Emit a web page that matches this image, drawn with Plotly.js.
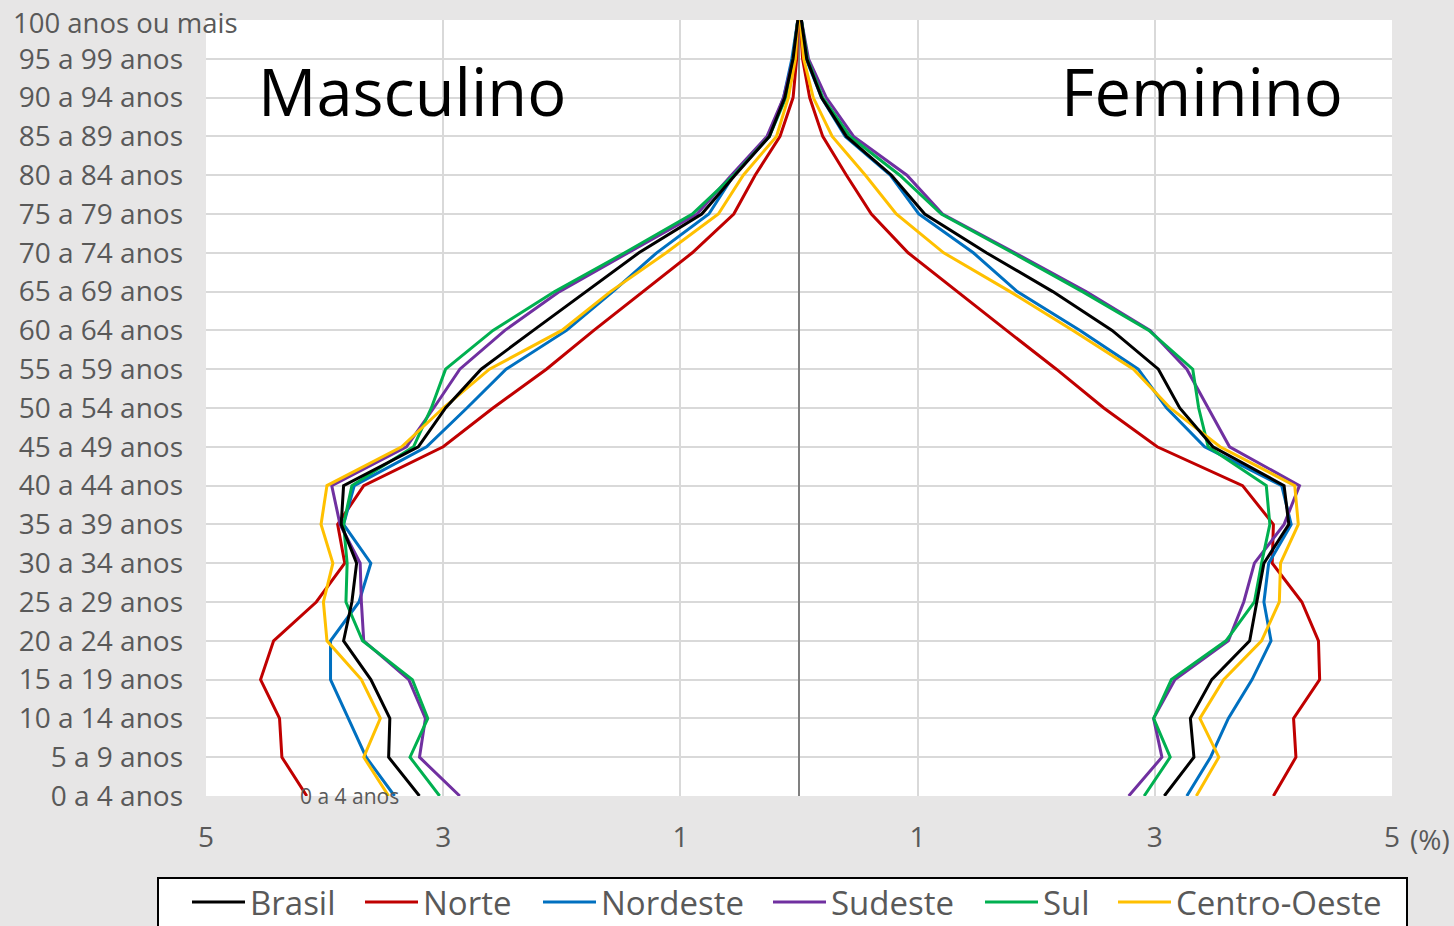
<!DOCTYPE html>
<html>
<head>
<meta charset="utf-8">
<script src="https://cdn.plot.ly/plotly-3.0.1.min.js"></script>
<style>
html,body{margin:0;padding:0;background:#e7e6e6;}
#chart{width:1454px;height:926px;}
</style>
</head>
<body>
<div id="chart"></div>
<script>
// Age groups, from youngest (bottom) to oldest (top)
const ageGroups = ["0 a 4 anos","5 a 9 anos","10 a 14 anos","15 a 19 anos","20 a 24 anos","25 a 29 anos",
  "30 a 34 anos","35 a 39 anos","40 a 44 anos","45 a 49 anos","50 a 54 anos","55 a 59 anos",
  "60 a 64 anos","65 a 69 anos","70 a 74 anos","75 a 79 anos","80 a 84 anos","85 a 89 anos",
  "90 a 94 anos","95 a 99 anos","100 anos ou mais"];

const regions = ["Brasil","Norte","Nordeste","Sudeste","Sul","Centro-Oeste"];

// Masculino (%), same order as ageGroups
const maleBrasil      = [3.20,3.46,3.45,3.61,3.84,3.77,3.73,3.86,3.84,3.21,2.98,2.68,2.24,1.79,1.35,0.82,0.54,0.25,0.12,0.05,0.01];
const maleNorte       = [4.15,4.36,4.38,4.54,4.43,4.07,3.83,3.89,3.67,3.00,2.58,2.13,1.73,1.31,0.90,0.55,0.37,0.16,0.05,0.02,0.01];
const maleNordeste    = [3.41,3.65,3.80,3.95,3.95,3.71,3.61,3.84,3.75,3.14,2.80,2.47,1.96,1.57,1.20,0.76,0.55,0.25,0.13,0.06,0.01];
const maleSudeste     = [2.86,3.20,3.15,3.29,3.67,3.69,3.70,3.87,3.94,3.31,3.08,2.86,2.48,2.02,1.44,0.86,0.57,0.27,0.13,0.05,0.01];
const maleSul         = [3.03,3.28,3.13,3.26,3.68,3.82,3.81,3.84,3.77,3.25,3.10,2.98,2.58,2.06,1.47,0.90,0.55,0.25,0.11,0.05,0.01];
const maleCentroOeste = [3.46,3.67,3.53,3.69,3.98,4.01,3.93,4.03,3.98,3.35,3.00,2.61,2.00,1.59,1.12,0.68,0.47,0.19,0.09,0.03,0.01];

// Feminino (%)
const femBrasil      = [3.08,3.33,3.30,3.48,3.80,3.86,3.92,4.13,4.09,3.49,3.21,3.03,2.64,2.14,1.58,1.06,0.78,0.40,0.19,0.065,0.02];
const femNorte       = [4.00,4.19,4.17,4.39,4.38,4.24,3.99,4.00,3.74,3.02,2.57,2.17,1.75,1.33,0.92,0.61,0.40,0.20,0.09,0.03,0.01];
const femNordeste    = [3.27,3.47,3.62,3.82,3.98,3.92,3.96,4.15,4.07,3.42,3.10,2.86,2.37,1.84,1.47,1.01,0.77,0.39,0.19,0.06,0.02];
const femSudeste     = [2.78,3.06,2.99,3.17,3.62,3.75,3.84,4.09,4.22,3.63,3.45,3.27,2.96,2.42,1.82,1.21,0.91,0.46,0.23,0.08,0.02];
const femSul         = [2.91,3.13,2.99,3.14,3.60,3.84,3.90,3.97,3.94,3.45,3.37,3.32,2.95,2.39,1.80,1.20,0.85,0.43,0.20,0.07,0.02];
const femCentroOeste = [3.35,3.54,3.38,3.58,3.90,4.05,4.06,4.21,4.18,3.55,3.13,2.82,2.31,1.78,1.22,0.82,0.56,0.28,0.12,0.04,0.01];

const xTickVals = [-5,-3,-1,1,3,5];
const xTickText = ["5","3","1","1","3","5"];

const colors = ["#000000","#c00000","#0070c0","#7030a0","#00b050","#ffc000"];
const maleData = [maleBrasil,maleNorte,maleNordeste,maleSudeste,maleSul,maleCentroOeste];
const femData  = [femBrasil,femNorte,femNordeste,femSudeste,femSul,femCentroOeste];

const FONT = "Open Sans, Noto Sans, sans-serif";
const idx = ageGroups.map((_, i) => i);

// plot area geometry (px) used to place the legend entries in paper units
const W = 1454, H = 926, ML = 206, MR = 62, MT = 20, MB = 130;
const PW = W - ML - MR, PH = H - MT - MB;
const px2x = p => (p - ML) / PW;
const py2y = p => (H - MB - p) / PH;

const legendLeft = [187, 360, 538, 768, 980, 1113];
const legendKeys = ["legend","legend2","legend3","legend4","legend5","legend6"];

const traces = regions.map((name, r) => ({
  type: "scatter",
  mode: "lines",
  name: name,
  legend: legendKeys[r],
  x: maleData[r].map(v => -v).concat([null], femData[r]),
  y: idx.concat([null], idx),
  line: {color: colors[r], width: 3},
  connectgaps: false,
  hoverinfo: "skip"
}));
// draw Brasil on top
const ordered = traces.slice(1).concat([traces[0]]);

const layout = {
  width: W, height: H,
  paper_bgcolor: "#e7e6e6",
  plot_bgcolor: "#ffffff",
  margin: {l: ML, r: MR, t: MT, b: MB, autoexpand: false},
  font: {family: FONT, color: "#595959"},
  showlegend: true,
  xaxis: {
    range: [-5, 5],
    tickvals: xTickVals, ticktext: xTickText,
    showgrid: true, gridcolor: "#d9d9d9", gridwidth: 2,
    zeroline: true, zerolinecolor: "#808080", zerolinewidth: 2,
    showline: false, ticks: "",
    tickfont: {size: 28, color: "#595959", family: FONT},
    ticklabelstandoff: 22,
    fixedrange: true
  },
  yaxis: {
    range: [0, 20],
    tickvals: idx,
    ticktext: ageGroups.map((t, i) => i === ageGroups.length - 1 ? "" : t),
    showgrid: true, gridcolor: "#d9d9d9", gridwidth: 2,
    zeroline: false, showline: false, ticks: "",
    tickfont: {size: 28, color: "#595959", family: FONT},
    ticklabelstandoff: 22,
    fixedrange: true
  },
  shapes: [
    {type: "rect", xref: "paper", yref: "paper", layer: "above",
     x0: px2x(158), x1: px2x(1407), y0: py2y(878), y1: py2y(960),
     fillcolor: "#ffffff", line: {color: "#000000", width: 2}}
  ],
  annotations: [
    {xref: "paper", yref: "y", x: px2x(11), y: 20, xanchor: "left", yanchor: "middle",
     yshift: -2,
     text: ageGroups[ageGroups.length - 1], showarrow: false,
     font: {size: 27.5, color: "#595959", family: FONT}},
    {xref: "x", yref: "y", x: -3.79, y: 0, xanchor: "center", yanchor: "middle",
     text: "0 a 4 anos", showarrow: false,
     font: {size: 21, color: "#595959", family: FONT}},
    {xref: "x", yref: "y", x: -4.58, y: 18.18, xanchor: "left", yanchor: "middle",
     text: "Masculino", showarrow: false,
     font: {size: 65, color: "#000000", family: FONT}},
    {xref: "x", yref: "y", x: 4.60, y: 18.18, xanchor: "right", yanchor: "middle",
     text: "Feminino", showarrow: false,
     font: {size: 65, color: "#000000", family: FONT}},
    {xref: "paper", yref: "paper", x: 1, y: 0, xanchor: "left", yanchor: "top",
     xshift: 16, yshift: -22,
     text: "(%)", showarrow: false,
     font: {size: 28, color: "#595959", family: FONT}}
  ]
};

legendKeys.forEach((k, r) => {
  layout[k] = {
    orientation: "h",
    x: px2x(legendLeft[r]), xanchor: "left",
    y: py2y(902), yanchor: "middle",
    bgcolor: "rgba(0,0,0,0)",
    borderwidth: 0,
    itemwidth: 53,
    font: {size: 33, color: "#595959", family: FONT}
  };
});

Plotly.newPlot("chart", ordered, layout, {displayModeBar: false, staticPlot: true});
</script>
</body>
</html>
